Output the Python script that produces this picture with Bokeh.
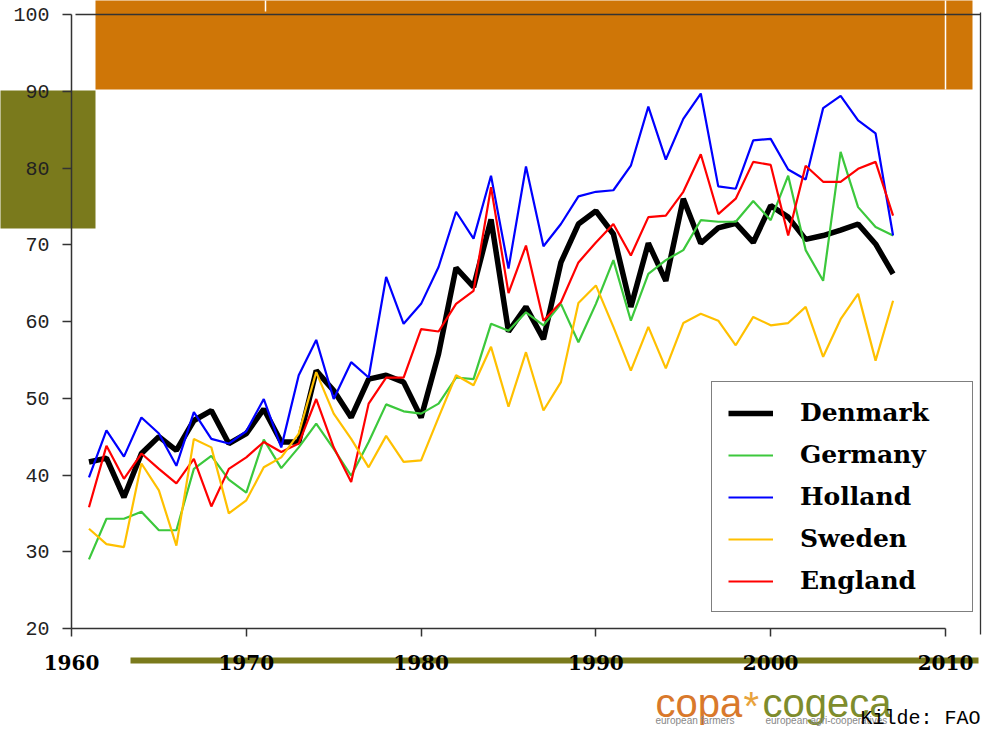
from bokeh.plotting import figure
from bokeh.models import (Range1d, FixedTicker, Legend, LegendItem, Label, LinearAxis)
from bokeh.embed import file_html
from bokeh.resources import INLINE

# ---------------- data ----------------
years = list(range(1961, 2008))

denmark = [41.7, 42.2, 37.1, 42.8, 45.0, 43.2, 47.1, 48.4, 44.1, 45.4,
           48.6, 44.3, 44.3, 53.6, 51.0, 47.5, 52.5, 53.0, 52.1, 47.5,
           55.8, 67.0, 64.5, 73.3, 58.7, 61.9, 57.7, 67.7, 72.7, 74.4,
           71.4, 61.9, 70.2, 65.3, 76.0, 70.2, 72.2, 72.8, 70.3, 75.1,
           73.6, 70.7, 71.2, 71.9, 72.7, 70.1, 66.2]

germany = [29.0, 34.3, 34.3, 35.2, 32.8, 32.8, 40.8, 42.5, 39.4, 37.7,
           44.6, 40.9, 43.6, 46.7, 43.4, 39.9, 44.3, 49.2, 48.3, 48.0,
           49.3, 52.7, 52.5, 59.7, 58.8, 61.2, 59.5, 62.3, 57.3, 62.3,
           68.0, 60.1, 66.2, 68.0, 69.3, 73.2, 73.0, 73.0, 75.7, 73.2,
           79.0, 69.3, 65.3, 82.1, 74.9, 72.3, 71.2]

holland = [39.7, 45.8, 42.4, 47.5, 45.4, 41.2, 48.2, 44.7, 44.1, 45.7,
           49.9, 43.6, 53.0, 57.6, 49.9, 54.7, 52.7, 65.8, 59.7, 62.3,
           67.1, 74.3, 70.8, 79.0, 66.9, 80.2, 69.8, 72.7, 76.3, 76.9,
           77.1, 80.3, 88.0, 81.1, 86.4, 89.7, 77.6, 77.3, 83.6, 83.8,
           79.8, 78.5, 87.8, 89.4, 86.2, 84.5, 71.2]

sweden = [33.0, 31.0, 30.6, 41.5, 38.0, 30.8, 44.7, 43.6, 35.0, 36.7,
          41.0, 42.3, 45.4, 53.4, 48.0, 44.7, 41.0, 45.1, 41.7, 41.9,
          47.5, 53.0, 51.7, 56.7, 48.9, 56.0, 48.4, 52.1, 62.4, 64.7,
          59.3, 53.6, 59.3, 53.9, 59.8, 61.0, 60.1, 56.9, 60.6, 59.5,
          59.8, 61.9, 55.4, 60.3, 63.6, 54.9, 62.7]

england = [35.8, 43.8, 39.5, 42.8, 40.8, 38.9, 42.1, 35.9, 40.8, 42.3,
           44.3, 43.0, 44.1, 49.9, 43.6, 39.1, 49.3, 52.7, 52.7, 59.0,
           58.7, 62.3, 64.0, 77.5, 63.7, 69.9, 60.1, 62.5, 67.7, 70.3,
           72.7, 68.6, 73.6, 73.8, 76.9, 81.8, 74.0, 76.0, 80.8, 80.4,
           71.2, 80.3, 78.2, 78.2, 79.9, 80.8, 73.8]

series_names = ["Denmark", "Germany", "Holland", "Sweden", "England"]
x_ticks = [1960, 1970, 1980, 1990, 2000, 2010]
y_ticks = [20, 30, 40, 50, 60, 70, 80, 90, 100]

# ---------------- geometry ----------------
W, H = 988, 730
PX_YEAR = 17.48     # pixels per year
PX_UNIT = 7.675     # pixels per y unit
PAGE_X0 = 71        # pixel x of 1960
PAGE_Y0 = 628       # pixel y of 20


def dx(px):
    return 1960 + (px - PAGE_X0) / PX_YEAR


def dy(py):
    return 20 + (PAGE_Y0 - py) / PX_UNIT


p = figure(width=W, height=H,
           x_range=Range1d(dx(0), dx(W)),
           y_range=Range1d(dy(H), dy(0)),
           x_axis_location=None, y_axis_location=None,
           output_backend="svg", toolbar_location=None,
           min_border=0, min_border_left=0, min_border_right=0,
           min_border_top=0, min_border_bottom=0)
p.outline_line_color = None
p.background_fill_color = "white"
p.border_fill_color = "white"
p.xgrid.visible = False
p.ygrid.visible = False

ORANGE = "#CF7607"
OLIVE = "#7A7A1C"
FRAME = "#333333"

# decorations (slide background pieces)
p.quad(left=[dx(95)], right=[dx(972)], bottom=[dy(89)], top=[dy(-5)],
       fill_color=ORANGE, line_color=None)
p.quad(left=[dx(-5)], right=[dx(95)], bottom=[dy(228)], top=[dy(90)],
       fill_color=OLIVE, line_color=None)
p.quad(left=[dx(130)], right=[dx(978)], bottom=[dy(663)], top=[dy(657)],
       fill_color=OLIVE, line_color=None)
p.segment(x0=[dx(945), dx(265)], y0=[dy(89), dy(11)], x1=[dx(945), dx(265)],
          y1=[dy(-5), dy(-5)], line_color="white", line_width=1.5)
p.segment(x0=[dx(75), dx(980)], y0=[dy(14), dy(12)], x1=[dx(980), dx(980)],
          y1=[dy(14), dy(634)], line_color=FRAME, line_width=1.3)

# series
r_dk = p.line(years, denmark, line_color="black", line_width=5.5)
r_de = p.line(years, germany, line_color="#3CC83C", line_width=2.2)
r_nl = p.line(years, holland, line_color="#0000FF", line_width=2.2)
r_uk = p.line(years, england, line_color="#FF0000", line_width=2.2)
r_se = p.line(years, sweden, line_color="#FFC000", line_width=2.2)

legend = Legend(items=[LegendItem(label=series_names[0], renderers=[r_dk]),
                       LegendItem(label=series_names[1], renderers=[r_de]),
                       LegendItem(label=series_names[2], renderers=[r_nl]),
                       LegendItem(label=series_names[3], renderers=[r_se]),
                       LegendItem(label=series_names[4], renderers=[r_uk])],
                location=(711, H - 612), padding=16, spacing=13,
                label_height=28, glyph_height=28, glyph_width=45,
                label_standoff=27, label_width=156,
                label_text_font="DejaVu Serif", label_text_font_style="bold",
                label_text_font_size="25px", label_text_color="black",
                border_line_color="black", border_line_width=1.5,
                background_fill_color="white", background_fill_alpha=1)
p.add_layout(legend)

# axes, drawn at fixed data positions inside the canvas
yaxis = LinearAxis(fixed_location=1960, ticker=FixedTicker(ticks=y_ticks), bounds=(20, 100),
                   major_tick_in=0, major_tick_out=9, minor_tick_line_color=None,
                   axis_line_color=FRAME, axis_line_width=1.5,
                   major_tick_line_color=FRAME, major_tick_line_width=1.5,
                   major_label_standoff=13, major_label_text_font="Liberation Mono",
                   major_label_text_font_size="20px", major_label_text_color="#222222")
p.add_layout(yaxis, "left")

xaxis = LinearAxis(fixed_location=20, ticker=FixedTicker(ticks=x_ticks), bounds=(1960, 2010),
                   major_tick_in=0, major_tick_out=8, minor_tick_line_color=None,
                   axis_line_color=FRAME, axis_line_width=1.5,
                   major_tick_line_color=FRAME, major_tick_line_width=1.5,
                   major_label_standoff=18, major_label_text_font="DejaVu Serif",
                   major_label_text_font_style="bold", major_label_text_font_size="20px",
                   major_label_text_color="black")
p.add_layout(xaxis, "below")

# logo and source
p.add_layout(Label(x=dx(655), y=dy(702), text="copa", text_font="Liberation Sans",
                   text_font_size="40px", text_color="#D9792B", text_baseline="alphabetic"))
p.add_layout(Label(x=dx(743), y=dy(705), text="*", text_font="Liberation Sans",
                   text_font_size="40px", text_color="#E8A33D", text_baseline="alphabetic"))
p.add_layout(Label(x=dx(762), y=dy(702), text="cogeca", text_font="Liberation Sans",
                   text_font_size="40px", text_color="#7E8C2C", text_baseline="alphabetic"))
p.add_layout(Label(x=dx(655), y=dy(720), text="european farmers", text_font="Liberation Sans",
                   text_font_size="10px", text_color="#888888", text_baseline="alphabetic"))
p.add_layout(Label(x=dx(765), y=dy(720), text="european agri-cooperatives",
                   text_font="Liberation Sans", text_font_size="10px",
                   text_color="#888888", text_baseline="alphabetic"))
p.add_layout(Label(x=dx(860), y=dy(718), text="Kilde: FAO", text_font="Liberation Mono",
                   text_font_size="20px", text_color="black", text_baseline="alphabetic"))

open("out.html", "w").write(file_html(p, INLINE))
